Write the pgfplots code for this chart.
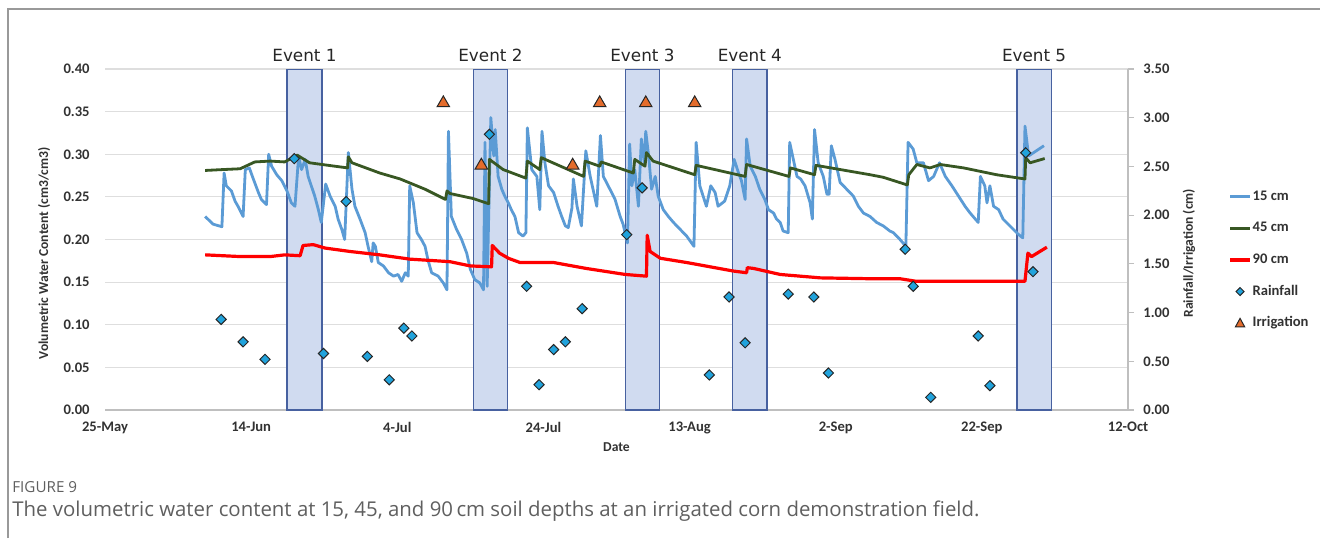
\documentclass[border=0pt]{standalone}
\usepackage{fontspec}
\usepackage{pgfplots}
\pgfplotsset{compat=1.18}
\newfontfamily\carlito{Carlito}
\newfontfamily\dejavu{DejaVu Sans}
\newfontfamily\opensans{Open Sans}
\definecolor{blue15}{RGB}{91,155,213}
\definecolor{green45}{RGB}{56,87,35}
\definecolor{red90}{RGB}{255,0,0}
\definecolor{rainfill}{RGB}{33,163,220}
\definecolor{irrfill}{RGB}{228,108,44}
\definecolor{boxfill}{RGB}{208,219,240}
\definecolor{boxdraw}{RGB}{71,97,160}
\definecolor{gridc}{RGB}{222,222,222}
\definecolor{axisc}{RGB}{191,191,191}
\definecolor{txt}{RGB}{50,50,50}
\definecolor{captc}{RGB}{95,95,95}
\begin{document}
\begin{tikzpicture}[x=1pt,y=1pt]
\useasboundingbox (0,0) rectangle (660,269);
\draw[black!40, line width=0.6pt] (4,0) -- (4,264.5) -- (660,264.5);
\node[anchor=base west, font=\opensans\fontsize{7.6}{9}\selectfont, text=captc, inner sep=0pt] at (6,22.75) {FIGURE 9};
\node[anchor=base west, font=\opensans\fontsize{10.2}{12}\selectfont, text=captc, inner sep=0pt] at (6,10.8) {The volumetric water content at 15, 45, and 90\,cm soil depths at an irrigated corn demonstration field.};
\begin{axis}[
  at={(52.5pt,64pt)}, anchor=south west, scale only axis,
  width=511.5pt, height=170.5pt,
  xmin=0, xmax=140, ymin=0, ymax=0.4,
  clip mode=individual,
  axis x line*=bottom, axis y line*=left,
  x axis line style={draw=axisc, line width=0.6pt, -},
  y axis line style={draw=none},
  major tick length=0pt,
  /pgf/number format/assume math mode=true,
  xtick={0,20,40,60,80,100,120,140},
  xticklabels={25-May,14-Jun,4-Jul,24-Jul,13-Aug,2-Sep,22-Sep,12-Oct},
  ytick={0,0.05,0.1,0.15,0.2,0.25,0.3,0.35,0.4},
  yticklabel style={/pgf/number format/fixed, /pgf/number format/fixed zerofill, /pgf/number format/precision=2, xshift=-7.5pt},
  xticklabel style={yshift=-6pt},
  tick label style={font=\carlito\bfseries\fontsize{7.3}{8}\selectfont, text=txt, inner sep=0pt},
  ymajorgrids, grid style={draw=gridc, line width=0.6pt},
  xlabel={Date}, xlabel style={font=\carlito\bfseries\fontsize{6.8}{8}\selectfont, text=txt, at={(rel axis cs:0.5,-0.11)}, anchor=center},
  ylabel={Volumetric Water Content (cm3/cm3)}, ylabel style={font=\carlito\bfseries\fontsize{6.8}{8}\selectfont, text=txt, at={(rel axis cs:-0.0596,0.46)}, anchor=center},
]
% event boxes
\addplot[fill=boxfill, draw=boxdraw, line width=0.7pt] coordinates {(24.9,0) (29.7,0) (29.7,0.4) (24.9,0.4)} -- cycle;
\addplot[fill=boxfill, draw=boxdraw, line width=0.7pt] coordinates {(50.4,0) (55.1,0) (55.1,0.4) (50.4,0.4)} -- cycle;
\addplot[fill=boxfill, draw=boxdraw, line width=0.7pt] coordinates {(71.2,0) (75.9,0) (75.9,0.4) (71.2,0.4)} -- cycle;
\addplot[fill=boxfill, draw=boxdraw, line width=0.7pt] coordinates {(85.9,0) (90.6,0) (90.6,0.4) (85.9,0.4)} -- cycle;
\addplot[fill=boxfill, draw=boxdraw, line width=0.7pt] coordinates {(124.8,0) (129.5,0) (129.5,0.4) (124.8,0.4)} -- cycle;
\node[font=\dejavu\fontsize{8.4}{10}\selectfont, text=black!85, anchor=base, inner sep=0pt, yshift=3.7pt] at (axis cs:27.3,0.4) {Event 1};
\node[font=\dejavu\fontsize{8.4}{10}\selectfont, text=black!85, anchor=base, inner sep=0pt, yshift=3.7pt] at (axis cs:52.75,0.4) {Event 2};
\node[font=\dejavu\fontsize{8.4}{10}\selectfont, text=black!85, anchor=base, inner sep=0pt, yshift=3.7pt] at (axis cs:73.55,0.4) {Event 3};
\node[font=\dejavu\fontsize{8.4}{10}\selectfont, text=black!85, anchor=base, inner sep=0pt, yshift=3.7pt] at (axis cs:88.25,0.4) {Event 4};
\node[font=\dejavu\fontsize{8.4}{10}\selectfont, text=black!85, anchor=base, inner sep=0pt, yshift=3.7pt] at (axis cs:127.15,0.4) {Event 5};
% 15 cm
\addplot[draw=blue15, line width=1.4pt, line join=round] coordinates {
(13.7,0.227) (14.8,0.218) (16.0,0.215) (16.3,0.278) (16.6,0.263) (17.3,0.257) (17.8,0.245) (18.2,0.239)
(18.9,0.227) (19.2,0.282) (19.75,0.284) (20.3,0.271) (21.0,0.255) (21.4,0.247) (22.1,0.241) (22.4,0.300)
(22.8,0.286) (23.5,0.276) (24.2,0.269) (24.9,0.257) (25.5,0.243) (26.0,0.239) (26.5,0.298) (26.9,0.282)
(27.4,0.294) (27.8,0.274) (28.7,0.251) (29.2,0.235) (29.6,0.220) (30.2,0.265) (30.8,0.251) (31.5,0.239)
(31.9,0.224) (32.4,0.212) (32.8,0.200) (33.3,0.302) (33.8,0.259) (34.2,0.239) (34.9,0.224) (35.6,0.208)
(36.0,0.192) (36.5,0.174) (36.7,0.196) (37.0,0.192) (37.4,0.173) (38.1,0.169) (38.8,0.161) (39.5,0.157)
(40.1,0.159) (40.6,0.151) (41.1,0.161) (41.5,0.157) (41.7,0.263) (42.2,0.243) (42.7,0.208) (43.3,0.200)
(43.8,0.192) (44.2,0.176) (44.7,0.161) (45.6,0.157) (46.3,0.149) (46.8,0.141) (47.0,0.327) (47.4,0.227)
(48.1,0.212) (48.8,0.200) (49.5,0.184) (50.0,0.165) (50.6,0.153) (51.3,0.149) (51.8,0.141) (52.0,0.314)
(52.3,0.145) (52.8,0.343) (53.2,0.298) (53.4,0.329) (53.8,0.274) (54.3,0.259) (54.7,0.251) (55.2,0.243)
(55.6,0.235) (56.1,0.227) (56.6,0.208) (57.2,0.204) (57.6,0.208) (57.8,0.331) (58.4,0.282) (59.1,0.274)
(59.5,0.235) (59.8,0.327) (60.2,0.290) (60.7,0.263) (61.4,0.255) (62.0,0.239) (62.5,0.227) (63.0,0.216)
(63.4,0.214) (63.9,0.237) (64.1,0.271) (64.6,0.239) (65.2,0.216) (65.8,0.304) (66.4,0.274) (67.3,0.239)
(67.8,0.322) (68.2,0.274) (69.1,0.259) (69.8,0.247) (70.5,0.227) (70.9,0.218) (71.5,0.196) (71.8,0.312)
(72.1,0.263) (72.5,0.282) (73.0,0.239) (73.4,0.318) (73.8,0.290) (74.0,0.327) (74.4,0.298) (74.8,0.259)
(75.3,0.274) (75.7,0.251) (76.4,0.235) (77.1,0.227) (77.8,0.220) (78.7,0.212) (79.6,0.204) (80.6,0.192)
(80.9,0.314) (81.4,0.263) (82.3,0.239) (82.9,0.263) (83.5,0.255) (83.9,0.239) (84.8,0.245) (85.5,0.263)
(86.1,0.294) (86.7,0.278) (87.1,0.269) (87.6,0.247) (87.8,0.318) (88.3,0.286) (89.0,0.274) (89.6,0.259)
(90.3,0.247) (90.8,0.235) (91.5,0.231) (91.9,0.224) (92.4,0.220) (92.8,0.210) (93.5,0.208) (93.7,0.314)
(94.2,0.294) (94.7,0.274) (95.2,0.271) (95.8,0.263) (96.5,0.243) (96.8,0.224) (97.1,0.329) (97.6,0.290)
(98.3,0.274) (98.8,0.253) (99.1,0.253) (99.4,0.310) (99.9,0.294) (100.6,0.267) (101.5,0.259) (102.4,0.251)
(103.1,0.239) (103.8,0.231) (104.7,0.227) (105.6,0.220) (106.5,0.216) (107.4,0.210) (107.9,0.208) (108.8,0.200)
(109.6,0.192) (109.9,0.314) (110.6,0.306) (111.1,0.290) (112.0,0.290) (112.7,0.269) (113.4,0.274) (114.2,0.290)
(115.0,0.274) (115.9,0.263) (116.8,0.251) (117.7,0.239) (118.4,0.231) (119.1,0.224) (119.5,0.220) (119.8,0.274)
(120.4,0.263) (120.7,0.243) (121.1,0.263) (121.6,0.239) (122.3,0.235) (122.9,0.224) (123.6,0.218) (124.3,0.212)
(125.0,0.206) (125.6,0.202) (125.9,0.333) (126.4,0.298) (127.1,0.302) (128.5,0.310)
};
% 45 cm
\addplot[draw=green45, line width=1.4pt, line join=round] coordinates {
(13.7,0.281) (16,0.282) (18.5,0.283) (20.5,0.291) (22.6,0.292) (24.6,0.291) (26.3,0.299) (28,0.290)
(29.7,0.288) (33.2,0.284) (33.3,0.297) (33.8,0.290) (37.6,0.278) (40.4,0.271) (43.8,0.259) (46.6,0.247)
(46.8,0.257) (47.2,0.254) (50.4,0.248) (52.5,0.242) (52.6,0.294) (54.5,0.282) (57.6,0.272) (57.8,0.292)
(59.5,0.282) (59.7,0.296) (63.4,0.282) (65.5,0.274) (65.7,0.292) (67.7,0.286) (67.9,0.291) (72.3,0.278)
(72.5,0.294) (73.9,0.286) (74.1,0.302) (75,0.292) (80.7,0.276) (80.9,0.287) (87.6,0.274) (87.8,0.288)
(93.6,0.274) (93.8,0.284) (97.1,0.276) (97.3,0.287) (104.7,0.276) (106.5,0.273) (109.8,0.264) (110,0.276)
(111.1,0.288) (112.9,0.284) (114.3,0.288) (117.5,0.284) (122,0.276) (125.9,0.271) (126,0.296) (126.6,0.290)
(128.6,0.295)
};
% 90 cm
\addplot[draw=red90, line width=1.6pt, line join=round] coordinates {
(13.7,0.182) (18.5,0.180) (22.6,0.180) (24.6,0.182) (26.7,0.181) (27.1,0.193) (28.5,0.194) (30.1,0.190)
(33.5,0.186) (37.6,0.182) (41.7,0.177) (47.2,0.174) (50,0.169) (52.9,0.168) (53.0,0.193) (54,0.184)
(55.2,0.178) (56.8,0.173) (61.4,0.173) (65.9,0.166) (71.2,0.159) (74.1,0.157) (74.2,0.205) (74.6,0.186)
(76,0.178) (79.6,0.173) (86,0.163) (87.8,0.161) (87.9,0.167) (88.8,0.166) (92.4,0.159) (97.9,0.155)
(104.7,0.154) (108.8,0.154) (111,0.151) (125.9,0.151) (126.3,0.184) (126.8,0.180) (128.9,0.191)
};
\end{axis}
\begin{axis}[
  at={(52.5pt,64pt)}, anchor=south west, scale only axis,
  width=511.5pt, height=170.5pt,
  xmin=0, xmax=140, ymin=0, ymax=3.5,
  clip=false,
  axis x line=none, axis y line*=right,
  y axis line style={draw=axisc, line width=0.6pt, -},
  ytick={0,0.5,1,1.5,2,2.5,3,3.5},
  ytick style={draw=axisc, line width=0.6pt},
  tick align=outside, major tick length=3pt,
  /pgf/number format/assume math mode=true,
  yticklabel style={/pgf/number format/fixed, /pgf/number format/fixed zerofill, /pgf/number format/precision=2, xshift=4.5pt},
  tick label style={font=\carlito\bfseries\fontsize{7.3}{8}\selectfont, text=txt, inner sep=0pt},
  ylabel={Rainfall/Irrigation (cm)}, ylabel style={font=\carlito\bfseries\fontsize{6.8}{8}\selectfont, text=txt, at={(rel axis cs:1.0596,0.46)}, anchor=center},
  legend cell align=left,
  legend style={at={(rel axis cs:1.0978,0.44)}, anchor=west, draw=none, fill=none, inner sep=0pt,
    font=\carlito\bfseries\fontsize{7.3}{8}\selectfont, text=txt, row sep=8.3pt,
    nodes={inner sep=0.5pt, text height=5pt, text depth=1.5pt, anchor=west},
    /tikz/every even column/.style={column sep=0pt}},
]
\addlegendimage{legend image code/.code={\draw[draw=blue15, line width=1.4pt] (0pt,0pt) -- (10pt,0pt);}}
\addlegendentry{15 cm}
\addlegendimage{legend image code/.code={\draw[draw=green45, line width=1.4pt] (0pt,0pt) -- (10pt,0pt);}}
\addlegendentry{45 cm}
\addlegendimage{legend image code/.code={\draw[draw=red90, line width=1.6pt] (0pt,0pt) -- (10pt,0pt);}}
\addlegendentry{90 cm}
\addlegendimage{legend image code/.code={\draw[fill=rainfill, draw=black!85, line width=0.5pt] (5pt,2pt) -- (7pt,0pt) -- (5pt,-2pt) -- (3pt,0pt) -- cycle;}}
\addlegendentry{Rainfall}
\addlegendimage{legend image code/.code={\draw[fill=irrfill, draw=black!85, line width=0.5pt] (5pt,2.4pt) -- (7.3pt,-1.8pt) -- (2.7pt,-1.8pt) -- cycle;}}
\addlegendentry{Irrigation}
\addplot[forget plot, only marks, mark=square*, mark size=1.8pt, mark options={rotate=45, fill=rainfill, draw=black!85, line width=0.5pt}] coordinates {
(15.9,0.93) (18.9,0.70) (21.9,0.52) (25.9,2.58) (29.9,0.58) (33.0,2.14) (35.9,0.55) (38.9,0.31)
(40.9,0.84) (42.0,0.76) (52.6,2.83) (57.7,1.27) (59.4,0.26) (61.4,0.62) (63.0,0.70) (65.3,1.04)
(71.4,1.80) (73.5,2.28) (82.7,0.36) (85.4,1.16) (87.6,0.69) (93.5,1.19) (97.0,1.16) (99.0,0.38)
(109.5,1.65) (110.6,1.27) (113.0,0.13) (119.5,0.76) (121.1,0.25) (126.0,2.64) (127.0,1.42)
};
\addplot[forget plot, only marks, mark=triangle*, mark size=3.6pt, mark options={fill=irrfill, draw=black!85, line width=0.5pt}] coordinates {
(46.3,3.15) (51.5,2.51) (64.0,2.51) (67.7,3.15) (74.0,3.15) (80.7,3.15)
};
\end{axis}
\end{tikzpicture}
\end{document}
